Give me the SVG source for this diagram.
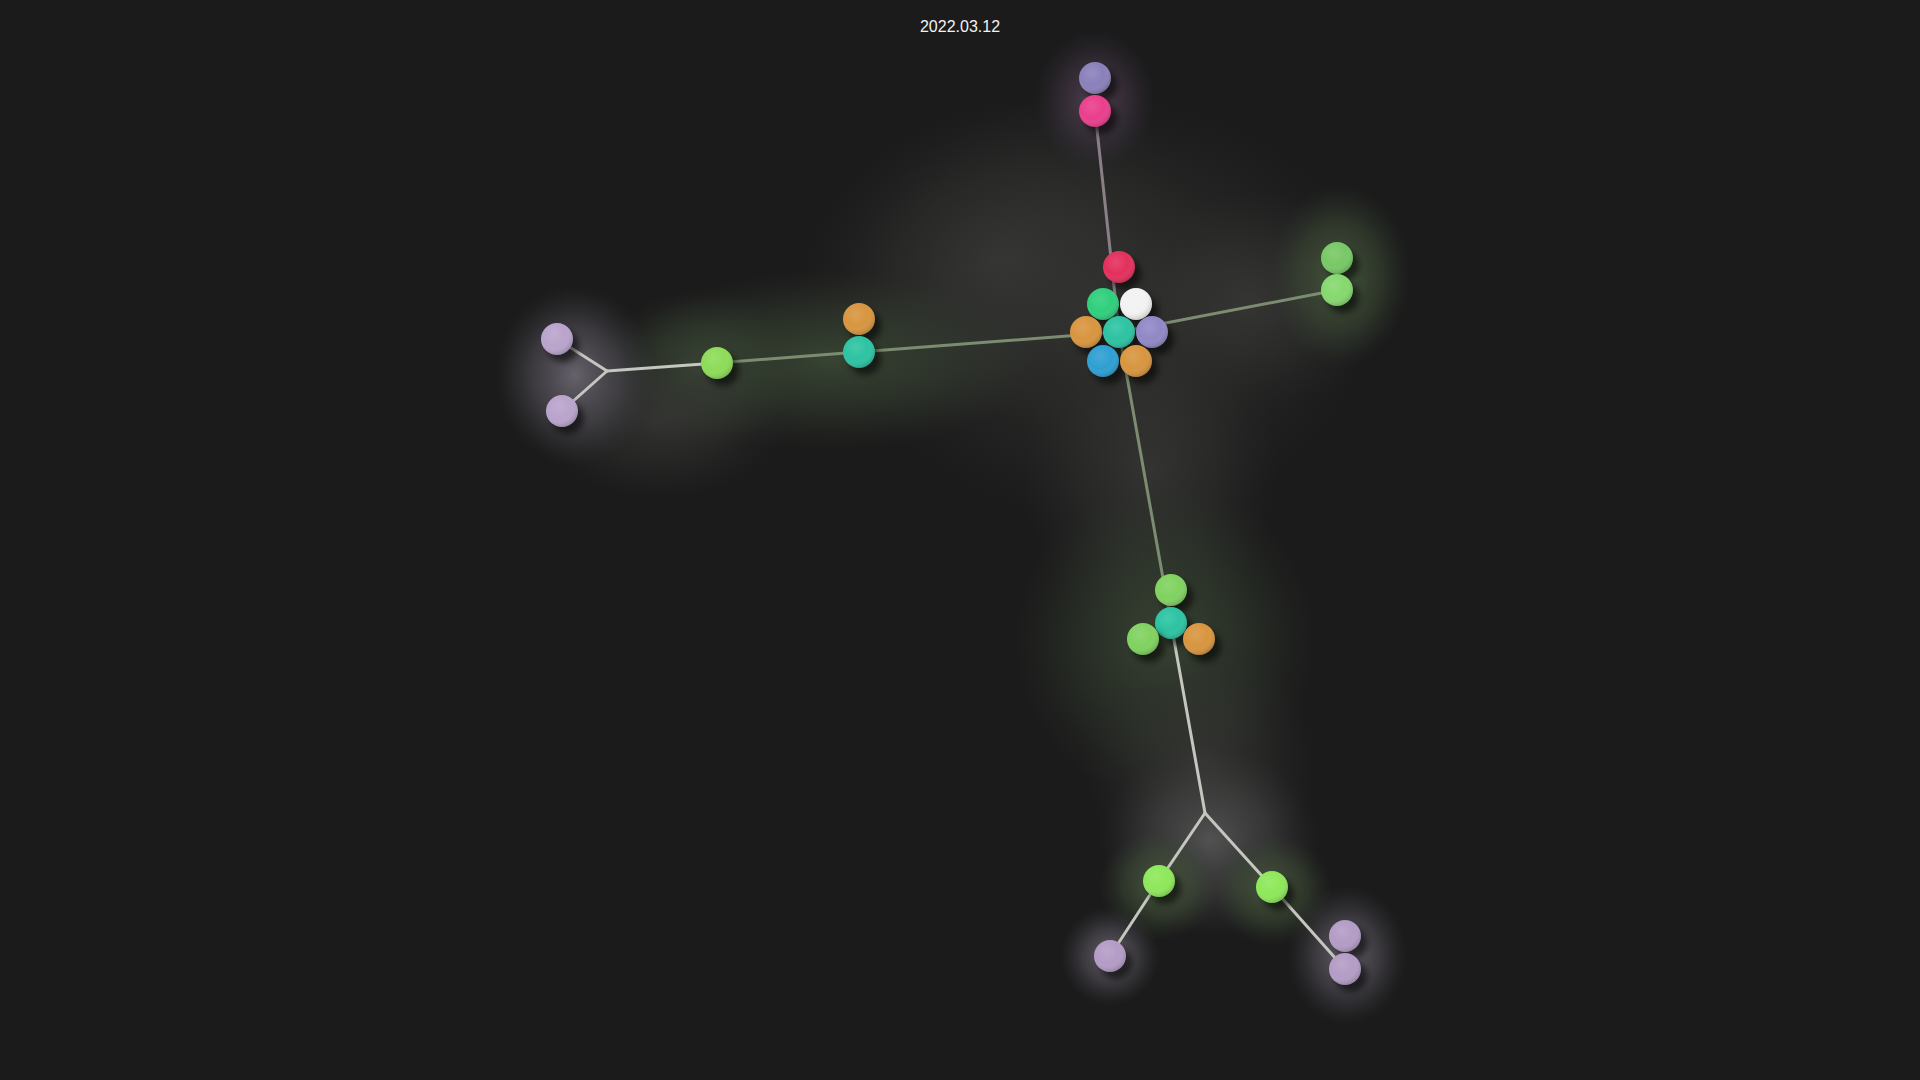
<svg xmlns="http://www.w3.org/2000/svg" width="1920" height="1080" viewBox="0 0 1920 1080">
<defs>
<filter id="sh" x="-50%" y="-50%" width="200%" height="200%"><feGaussianBlur stdDeviation="3"/></filter>
<radialGradient id="shade" cx="0.4" cy="0.35" r="0.7">
<stop offset="0" stop-color="#fff" stop-opacity="0.12"/>
<stop offset="0.55" stop-color="#fff" stop-opacity="0"/>
<stop offset="1" stop-color="#000" stop-opacity="0.22"/>
</radialGradient>
<radialGradient id="hGrey"><stop offset="0" stop-color="#3a3a38" stop-opacity="0.75"/><stop offset="0.5" stop-color="#343532" stop-opacity="0.45"/><stop offset="1" stop-color="#2a2a2a" stop-opacity="0"/></radialGradient>
<radialGradient id="hGreen"><stop offset="0" stop-color="#3f4e38" stop-opacity="0.8"/><stop offset="0.55" stop-color="#384533" stop-opacity="0.45"/><stop offset="1" stop-color="#30392c" stop-opacity="0"/></radialGradient>
<radialGradient id="hGreenB"><stop offset="0" stop-color="#485c3e" stop-opacity="0.9"/><stop offset="0.6" stop-color="#3e4d36" stop-opacity="0.5"/><stop offset="1" stop-color="#33402e" stop-opacity="0"/></radialGradient>
<radialGradient id="hWhite"><stop offset="0" stop-color="#5a5a5a" stop-opacity="0.85"/><stop offset="0.55" stop-color="#4a4a4a" stop-opacity="0.5"/><stop offset="1" stop-color="#3a3a3a" stop-opacity="0"/></radialGradient>
<radialGradient id="hLilac"><stop offset="0" stop-color="#6a6670" stop-opacity="0.95"/><stop offset="0.55" stop-color="#55515a" stop-opacity="0.55"/><stop offset="1" stop-color="#3a3840" stop-opacity="0"/></radialGradient>
<radialGradient id="hPink"><stop offset="0" stop-color="#5a4656" stop-opacity="0.9"/><stop offset="0.55" stop-color="#46384a" stop-opacity="0.5"/><stop offset="1" stop-color="#3a3040" stop-opacity="0"/></radialGradient>
<style>
.shadow{fill:#000;opacity:0.55;filter:url(#sh)}
.gloss{fill:url(#shade)}
.edge{fill:none;stroke-width:3;stroke-linecap:round}
.eg{stroke:#7c8c70}
.ep{stroke:#8a7f86}
.ew{stroke:#c4c6c0}
.title{font-family:"Liberation Sans",Arial,sans-serif;font-size:16px;fill:#f2f2f2;text-anchor:middle}
</style>
</defs>
<rect width="1920" height="1080" fill="#1b1b1b"/>
<g id="halos">
<ellipse cx="1110" cy="310" rx="270" ry="220" fill="url(#hGrey)"/>
<ellipse cx="1000" cy="260" rx="210" ry="160" fill="url(#hGrey)" transform="rotate(-20 1000 260)"/>
<ellipse cx="1250" cy="300" rx="140" ry="110" fill="url(#hGrey)"/>
<ellipse cx="1150" cy="470" rx="130" ry="170" fill="url(#hGrey)"/>
<ellipse cx="1095" cy="100" rx="60" ry="70" fill="url(#hPink)"/>
<ellipse cx="830" cy="360" rx="210" ry="90" fill="url(#hGreen)"/>
<ellipse cx="700" cy="370" rx="100" ry="80" fill="url(#hGreen)"/>
<ellipse cx="660" cy="420" rx="130" ry="80" fill="url(#hGrey)"/>
<ellipse cx="575" cy="375" rx="80" ry="90" fill="url(#hLilac)"/>
<ellipse cx="1340" cy="275" rx="70" ry="90" fill="url(#hGreenB)"/>
<ellipse cx="1165" cy="640" rx="150" ry="160" fill="url(#hGreen)"/>
<ellipse cx="1200" cy="760" rx="120" ry="120" fill="url(#hGrey)"/>
<ellipse cx="1210" cy="840" rx="110" ry="95" fill="url(#hWhite)"/>
<ellipse cx="1159" cy="885" rx="60" ry="55" fill="url(#hGreenB)"/>
<ellipse cx="1272" cy="890" rx="60" ry="55" fill="url(#hGreenB)"/>
<ellipse cx="1110" cy="956" rx="50" ry="50" fill="url(#hLilac)"/>
<ellipse cx="1347" cy="955" rx="60" ry="70" fill="url(#hLilac)"/>
</g>
<g id="connectors">
<line class="edge ep" x1="1095" y1="111" x2="1119" y2="332"/>
<line class="edge eg" x1="1119" y1="332" x2="1337" y2="290"/>
<line class="edge eg" x1="1119" y1="332" x2="859" y2="352"/>
<line class="edge eg" x1="859" y1="352" x2="717" y2="363"/>
<line class="edge ew" x1="717" y1="363" x2="607" y2="371"/>
<line class="edge ew" x1="607" y1="371" x2="557" y2="339"/>
<line class="edge ew" x1="607" y1="371" x2="562" y2="411"/>
<line class="edge eg" x1="1119" y1="332" x2="1171" y2="623"/>
<line class="edge ew" x1="1171" y1="623" x2="1205" y2="813"/>
<line class="edge ew" x1="1205" y1="813" x2="1159" y2="881"/>
<line class="edge ew" x1="1159" y1="881" x2="1110" y2="956"/>
<line class="edge ew" x1="1205" y1="813" x2="1272" y2="887"/>
<line class="edge ew" x1="1272" y1="887" x2="1345" y2="969"/>
</g>
<g id="n-top-purple"><circle class="shadow" cx="1101" cy="85" r="16"/><circle cx="1095" cy="78" r="16" fill="#8a80ba"/><circle class="gloss" cx="1095" cy="78" r="16"/></g>
<g id="n-top-pink"><circle class="shadow" cx="1101" cy="118" r="16"/><circle cx="1095" cy="111" r="16" fill="#ea3e8c"/><circle class="gloss" cx="1095" cy="111" r="16"/></g>
<g id="n-red"><circle class="shadow" cx="1125" cy="274" r="16"/><circle cx="1119" cy="267" r="16" fill="#e32f5c"/><circle class="gloss" cx="1119" cy="267" r="16"/></g>
<g id="n-green"><circle class="shadow" cx="1109" cy="311" r="16"/><circle cx="1103" cy="304" r="16" fill="#2fcf7c"/><circle class="gloss" cx="1103" cy="304" r="16"/></g>
<g id="n-white"><circle class="shadow" cx="1142" cy="311" r="16"/><circle cx="1136" cy="304" r="16" fill="#f2f2f2"/><circle class="gloss" cx="1136" cy="304" r="16"/></g>
<g id="n-orange-l"><circle class="shadow" cx="1092" cy="339" r="16"/><circle cx="1086" cy="332" r="16" fill="#d8953f"/><circle class="gloss" cx="1086" cy="332" r="16"/></g>
<g id="n-teal-c"><circle class="shadow" cx="1125" cy="339" r="16"/><circle cx="1119" cy="332" r="16" fill="#2cc3a2"/><circle class="gloss" cx="1119" cy="332" r="16"/></g>
<g id="n-purple"><circle class="shadow" cx="1158" cy="339" r="16"/><circle cx="1152" cy="332" r="16" fill="#9088c6"/><circle class="gloss" cx="1152" cy="332" r="16"/></g>
<g id="n-blue"><circle class="shadow" cx="1109" cy="368" r="16"/><circle cx="1103" cy="361" r="16" fill="#2e9fd2"/><circle class="gloss" cx="1103" cy="361" r="16"/></g>
<g id="n-orange-r"><circle class="shadow" cx="1142" cy="368" r="16"/><circle cx="1136" cy="361" r="16" fill="#d8953f"/><circle class="gloss" cx="1136" cy="361" r="16"/></g>
<g id="n-right-g1"><circle class="shadow" cx="1343" cy="265" r="16"/><circle cx="1337" cy="258" r="16" fill="#78c865"/><circle class="gloss" cx="1337" cy="258" r="16"/></g>
<g id="n-right-g2"><circle class="shadow" cx="1343" cy="297" r="16"/><circle cx="1337" cy="290" r="16" fill="#86d86e"/><circle class="gloss" cx="1337" cy="290" r="16"/></g>
<g id="n-left-orange"><circle class="shadow" cx="865" cy="326" r="16"/><circle cx="859" cy="319" r="16" fill="#d8953f"/><circle class="gloss" cx="859" cy="319" r="16"/></g>
<g id="n-left-teal"><circle class="shadow" cx="865" cy="359" r="16"/><circle cx="859" cy="352" r="16" fill="#2cc3a2"/><circle class="gloss" cx="859" cy="352" r="16"/></g>
<g id="n-left-green"><circle class="shadow" cx="723" cy="370" r="16"/><circle cx="717" cy="363" r="16" fill="#8ddc58"/><circle class="gloss" cx="717" cy="363" r="16"/></g>
<g id="n-lilac-1"><circle class="shadow" cx="563" cy="346" r="16"/><circle cx="557" cy="339" r="16" fill="#b9a4cc"/><circle class="gloss" cx="557" cy="339" r="16"/></g>
<g id="n-lilac-2"><circle class="shadow" cx="568" cy="418" r="16"/><circle cx="562" cy="411" r="16" fill="#b9a4cc"/><circle class="gloss" cx="562" cy="411" r="16"/></g>
<g id="n-mid-green-top"><circle class="shadow" cx="1177" cy="597" r="16"/><circle cx="1171" cy="590" r="16" fill="#80d260"/><circle class="gloss" cx="1171" cy="590" r="16"/></g>
<g id="n-mid-teal"><circle class="shadow" cx="1177" cy="630" r="16"/><circle cx="1171" cy="623" r="16" fill="#2cc3a2"/><circle class="gloss" cx="1171" cy="623" r="16"/></g>
<g id="n-mid-green-left"><circle class="shadow" cx="1149" cy="646" r="16"/><circle cx="1143" cy="639" r="16" fill="#80d260"/><circle class="gloss" cx="1143" cy="639" r="16"/></g>
<g id="n-mid-orange"><circle class="shadow" cx="1205" cy="646" r="16"/><circle cx="1199" cy="639" r="16" fill="#d8953f"/><circle class="gloss" cx="1199" cy="639" r="16"/></g>
<g id="n-bot-green-l"><circle class="shadow" cx="1165" cy="888" r="16"/><circle cx="1159" cy="881" r="16" fill="#8ee85a"/><circle class="gloss" cx="1159" cy="881" r="16"/></g>
<g id="n-bot-green-r"><circle class="shadow" cx="1278" cy="894" r="16"/><circle cx="1272" cy="887" r="16" fill="#8ee85a"/><circle class="gloss" cx="1272" cy="887" r="16"/></g>
<g id="n-bot-lilac-l"><circle class="shadow" cx="1116" cy="963" r="16"/><circle cx="1110" cy="956" r="16" fill="#b39cc6"/><circle class="gloss" cx="1110" cy="956" r="16"/></g>
<g id="n-bot-lilac-r1"><circle class="shadow" cx="1351" cy="943" r="16"/><circle cx="1345" cy="936" r="16" fill="#b39cc6"/><circle class="gloss" cx="1345" cy="936" r="16"/></g>
<g id="n-bot-lilac-r2"><circle class="shadow" cx="1351" cy="976" r="16"/><circle cx="1345" cy="969" r="16" fill="#b39cc6"/><circle class="gloss" cx="1345" cy="969" r="16"/></g>
<text class="title" x="960" y="32">2022.03.12</text>
</svg>
